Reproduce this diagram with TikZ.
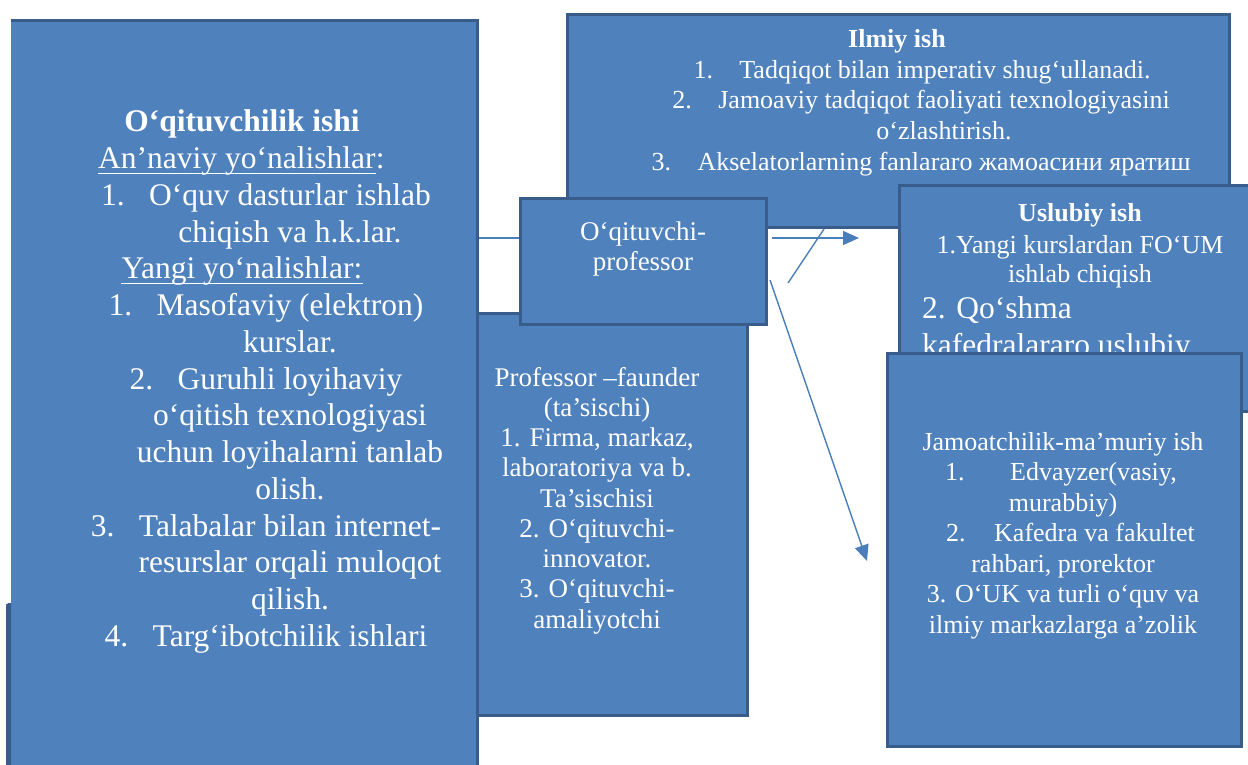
\documentclass[tikz,border=0pt]{standalone}
\usepackage{fontspec}
\setmainfont{Liberation Serif}
\usetikzlibrary{arrows.meta}
\definecolor{boxfill}{HTML}{4F81BD}
\definecolor{boxline}{HTML}{385D8A}
\definecolor{connc}{HTML}{4A7EBB}
\begin{document}
\begin{tikzpicture}[x=1pt,y=-1pt,
  box/.style={draw=boxline, fill=boxfill, line width=3pt, inner sep=0pt, anchor=north west, rectangle},
  txt/.style={text=white, inner sep=0pt, anchor=base},
  big/.style={txt, font=\fontsize{31.5}{36}\selectfont},
  bigb/.style={txt, font=\fontsize{31.5}{36}\selectfont\bfseries},
  mid/.style={txt, font=\fontsize{27}{30}\selectfont},
  sml/.style={txt, font=\fontsize{26}{30}\selectfont},
  smlb/.style={txt, font=\fontsize{26}{30}\selectfont\bfseries},
  connline/.style={draw=connc, line width=1.4pt},
  arr/.style={connline, -{Triangle[length=16pt,width=14pt]}}]
\useasboundingbox (0,0) rectangle (1248,765);
\clip (0,0) rectangle (1248,765);

% Ilmiy ish
\node[box, minimum width=662pt, minimum height=213pt] (ilmiy) at (566,13) {};
\node[smlb] (i0) at (897,48) {Ilmiy ish};
\node[sml] (i1) at (945,79) {Tadqiqot bilan imperativ shug‘ullanadi.};
\node[sml, anchor=base east] (i1n) at ([xshift=-26pt]i1.base west) {1.};
\node[sml] (i2) at (944,109) {Jamoaviy tadqiqot faoliyati texnologiyasini};
\node[sml, anchor=base east] (i2n) at ([xshift=-26pt]i2.base west) {2.};
\node[sml] (i3) at (944,140) {o‘zlashtirish.};
\node[sml] (i4) at (944,171) {Akselatorlarning fanlararo жамоасини яратиш};
\node[sml, anchor=base east] (i4n) at ([xshift=-26pt]i4.base west) {3.};

% Professor-faunder
\node[box, minimum width=280pt, minimum height=402pt] (pf) at (466,312) {};
\node[mid] (p1) at (597,386) {Professor –faunder};
\node[mid] (p2) at (597,416.25) {(ta’sischi)};
\node[mid] (p3) at (597,446.5) {1. Firma, markaz,};
\node[mid] (p4) at (597,476.75) {laboratoriya va b.};
\node[mid] (p5) at (597,507) {Ta’sischisi};
\node[mid] (p6) at (597,537.25) {2. O‘qituvchi-};
\node[mid] (p7) at (597,567.5) {innovator.};
\node[mid] (p8) at (597,597.75) {3. O‘qituvchi-};
\node[mid] (p9) at (597,628) {amaliyotchi};

% Left big box (its left edge lies outside the picture)
\node[box, minimum width=482pt, minimum height=790pt] (left) at (-6,19) {};
\fill[white] (-1,-1) rectangle (11,604);
\fill[white] (-1,604) rectangle (6,770);
\fill[boxline] (6,606) -- (8,603) -- (11,603) -- (11,770) -- (6,770) -- cycle;
\node[bigb] (l0) at (242,132) {O‘qituvchilik ishi};
\node[big, anchor=base west] (l1) at (98,168.7) {An’naviy yo‘nalishlar};
\node[big, anchor=base west] (l1c) at (l1.base east) {:};
\draw[white, line width=1.3pt] ([yshift=-5pt]l1.base west) -- ([yshift=-5pt]l1.base east);
\node[big] (l2) at (290,205.4) {O‘quv dasturlar ishlab};
\node[big, anchor=base west] (l2n) at ([xshift=-48pt]l2.base west) {1.};
\node[big] (l3) at (290,242) {chiqish va h.k.lar.};
\node[big] (l4) at (242,278.8) {Yangi yo‘nalishlar:};
\draw[white, line width=1.3pt] ([yshift=-5pt]l4.base west) -- ([yshift=-5pt]l4.base east);
\node[big] (l5) at (290,315.5) {Masofaviy (elektron)};
\node[big, anchor=base west] (l5n) at ([xshift=-48pt]l5.base west) {1.};
\node[big] (l6) at (290,352) {kurslar.};
\node[big] (l7) at (290,389) {Guruhli loyihaviy};
\node[big, anchor=base west] (l7n) at ([xshift=-48pt]l7.base west) {2.};
\node[big] (l8) at (290,425.6) {o‘qitish texnologiyasi};
\node[big] (l9) at (290,462) {uchun loyihalarni tanlab};
\node[big] (l10) at (290,499) {olish.};
\node[big] (l11) at (290,536) {Talabalar bilan internet-};
\node[big, anchor=base west] (l11n) at ([xshift=-48pt]l11.base west) {3.};
\node[big] (l12) at (290,572.6) {resurslar orqali muloqot};
\node[big] (l13) at (290,609) {qilish.};
\node[big] (l14) at (290,646) {Targ‘ibotchilik ishlari};
\node[big, anchor=base west] (l14n) at ([xshift=-48pt]l14.base west) {4.};

% O'qituvchi-professor
\node[box, minimum width=246pt, minimum height=126pt] (op) at (519,197) {};
\node[mid] (o1) at (643,240) {O‘qituvchi-};
\node[mid] (o2) at (643,270) {professor};

% Uslubiy ish
\node[box, minimum width=380pt, minimum height=226pt] (usl) at (898,184) {};
\node[smlb] (u0) at (1080,222) {Uslubiy ish};
\node[sml] (u1) at (1080,253) {1.Yangi kurslardan FO‘UM};
\node[sml] (u2) at (1080,282) {ishlab chiqish};
\node[big, anchor=base west] (u3) at (922,318) {2. Qo‘shma};
\node[big, anchor=base west] (u4) at (922,355) {kafedralararo uslubiy};

% Jamoatchilik-ma'muriy ish
\node[box, minimum width=354pt, minimum height=393pt] (jam) at (886,352) {};
\node[sml] (j1) at (1063,450) {Jamoatchilik-ma’muriy ish};
\node[sml, anchor=base west] (j2) at (1010,480.5) {Edvayzer(vasiy,};
\node[sml, anchor=base west] (j2n) at (945,480.5) {1.};
\node[sml] (j3) at (1063,511) {murabbiy)};
\node[sml, anchor=base west] (j4) at (994,541.5) {Kafedra va fakultet};
\node[sml, anchor=base west] (j4n) at (946,541.5) {2.};
\node[sml] (j5) at (1063,572) {rahbari, prorektor};
\node[sml] (j6) at (1063,602.5) {3. O‘UK va turli o‘quv va};
\node[sml] (j7) at (1063,633) {ilmiy markazlarga a’zolik};

% connectors
\coordinate (lk) at (500,238);
\draw[connline] (left.east |- lk) -- (op.west |- lk);
\coordinate (a1s) at (772,238);
\coordinate (a1e) at (859,238);
\draw[arr] (a1s) -- (a1e);
\coordinate (a2s) at (788,283);
\draw[connline] (a2s) -- (ilmiy.south -| 824,0);
\coordinate (a3s) at (770,280);
\coordinate (a3e) at (867,561);
\draw[arr] (a3s) -- (a3e);
\end{tikzpicture}
\end{document}
